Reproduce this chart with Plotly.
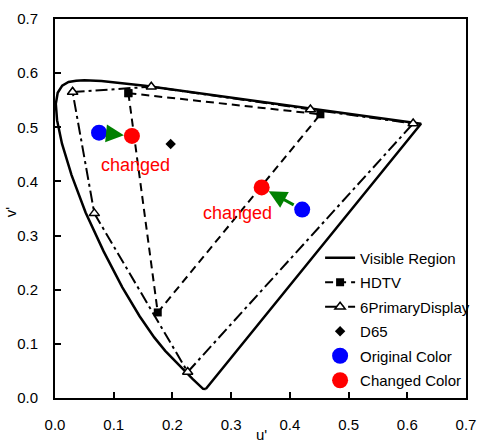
import plotly.graph_objects as go

# Spectral locus (CIE 1976 u'v'), from 380 nm to 700 nm
locus_u = [0.2568, 0.2522, 0.2347, 0.2161, 0.2033, 0.1877, 0.1690, 0.1441, 0.1147,
           0.0828, 0.0521, 0.0282, 0.0119, 0.0035, 0.0014, 0.0046, 0.0123, 0.0231,
           0.0360, 0.0501, 0.0792, 0.1127, 0.1531, 0.2026, 0.2623, 0.3315, 0.4035,
           0.5203, 0.6005, 0.6234]
locus_v = [0.0166, 0.0169, 0.0350, 0.0550, 0.0688, 0.0871, 0.1119, 0.1510, 0.2044,
           0.2708, 0.3427, 0.4117, 0.4698, 0.5131, 0.5432, 0.5638, 0.5770, 0.5837,
           0.5861, 0.5868, 0.5856, 0.5821, 0.5766, 0.5694, 0.5604, 0.5501, 0.5393,
           0.5219, 0.5099, 0.5065]

hdtv_u = [0.125, 0.452, 0.175, 0.125]
hdtv_v = [0.563, 0.524, 0.158, 0.563]

six_u = [0.030, 0.164, 0.435, 0.610, 0.226, 0.067, 0.030]
six_v = [0.565, 0.575, 0.533, 0.507, 0.048, 0.341, 0.565]

d65_u = [0.197]
d65_v = [0.469]

orig_u = [0.075, 0.421]
orig_v = [0.490, 0.348]

chg_u = [0.131, 0.352]
chg_v = [0.484, 0.389]

label_u = [0.1375, 0.310]
label_v = [0.430, 0.341]
label_text = ["changed", "changed"]

x_ticks = [0.0, 0.1, 0.2, 0.3, 0.4, 0.5, 0.6, 0.7]
y_ticks = [0.0, 0.1, 0.2, 0.3, 0.4, 0.5, 0.6, 0.7]

FONT = "Liberation Sans, Arial, sans-serif"

fig = go.Figure()

# close the locus with the purple line
fig.add_trace(go.Scatter(
    x=locus_u + [locus_u[0]], y=locus_v + [locus_v[0]], mode="lines",
    name="Visible Region", legendgroup="g1", line=dict(color="black", width=2.5)))

fig.add_trace(go.Scatter(
    x=hdtv_u, y=hdtv_v, mode="lines+markers", name="HDTV", legendgroup="g2",
    line=dict(color="black", width=2, dash="8px,5px"),
    marker=dict(symbol="square", size=8, color="black")))

fig.add_trace(go.Scatter(
    x=six_u, y=six_v, mode="lines+markers", name="6PrimaryDisplay", legendgroup="g3",
    line=dict(color="black", width=2, dash="12px,4px,3px,4px"),
    marker=dict(symbol="triangle-up", size=9, color="white",
                line=dict(color="black", width=1.5))))

fig.add_trace(go.Scatter(
    x=d65_u, y=d65_v, mode="markers", name="D65", legendgroup="g4",
    marker=dict(symbol="diamond", size=8, color="black")))

fig.add_trace(go.Scatter(
    x=orig_u, y=orig_v, mode="markers", name="Original Color", legendgroup="g5",
    marker=dict(symbol="circle", size=16, color="#0000ff")))

fig.add_trace(go.Scatter(
    x=chg_u, y=chg_v, mode="markers", name="Changed Color", legendgroup="g6",
    marker=dict(symbol="circle", size=16, color="#ff0000")))

annotations = []
for ou, ov, cu, cv in zip(orig_u, orig_v, chg_u, chg_v):
    annotations.append(dict(
        x=cu, y=cv, ax=ou, ay=ov, xref="x", yref="y", axref="x", ayref="y",
        text="", showarrow=True, arrowhead=2, arrowsize=1.2, arrowwidth=3,
        arrowcolor="#008000", standoff=8, startstandoff=8))
for lu, lv, t in zip(label_u, label_v, label_text):
    annotations.append(dict(
        x=lu, y=lv, xref="x", yref="y", text=t, showarrow=False,
        font=dict(family=FONT, size=18, color="#ff0000")))

annotations.append(dict(x=0.502, y=-0.095, xref="paper", yref="paper", text="u'",
                        xanchor="center", yanchor="middle", showarrow=False,
                        font=dict(family=FONT, size=15, color="black")))
annotations.append(dict(x=-0.108, y=0.492, xref="paper", yref="paper", text="v'",
                        xanchor="center", yanchor="middle", showarrow=False,
                        textangle=-90,
                        font=dict(family=FONT, size=15, color="black")))

axis_common = dict(
    range=[0, 0.7], tickformat=".1f", showgrid=False,
    zeroline=False, showline=True, linecolor="black", linewidth=2, mirror=True,
    ticks="inside", ticklen=6, tickwidth=1.5, tickcolor="black",
    tickfont=dict(family=FONT, size=15, color="black"))

fig.update_layout(
    width=486, height=443,
    margin=dict(l=55, r=10, t=12, b=42),
    paper_bgcolor="white", plot_bgcolor="white",
    font=dict(family=FONT, size=15, color="black"),
    showlegend=True,
    legend=dict(x=0.645, y=0.413, xanchor="left", yanchor="top",
                bgcolor="rgba(0,0,0,0)", font=dict(family=FONT, size=15),
                itemwidth=30, tracegroupgap=2),
    xaxis=dict(axis_common, tickvals=x_ticks, ticklabelstandoff=12),
    yaxis=dict(axis_common, tickvals=y_ticks, ticklabelstandoff=12),
    annotations=annotations,
)

fig.write_html("out.html")
